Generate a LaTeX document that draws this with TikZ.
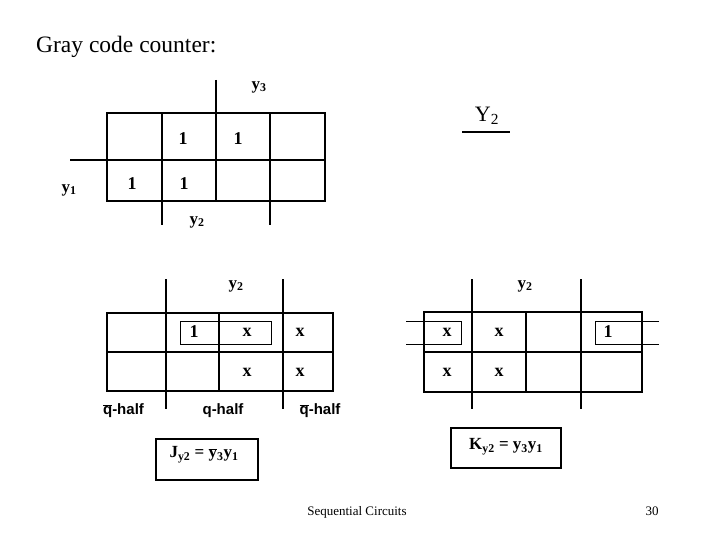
\documentclass[tikz,border=0pt]{standalone}
\usepackage{fontspec}
\setmainfont{Liberation Serif}
\newfontfamily\qsans{Liberation Sans}
\newcommand{\ovl}[1]{\ensuremath{\overline{\hbox{#1}}}}
\begin{document}
\begin{tikzpicture}[x=1pt,y=-1pt,
  grid/.style={line width=2.6pt},
  loopline/.style={line width=0.9pt},
  cell/.style={font=\fontsize{18}{18}\selectfont\bfseries, inner sep=0pt},
  varlab/.style={font=\fontsize{17}{17}\selectfont\bfseries, inner sep=0pt},
  half/.style={font=\qsans\fontsize{15}{15}\selectfont\bfseries, inner sep=0pt},
  eqbox/.style={draw, line width=2.2pt},
  eqtext/.style={font=\fontsize{17}{17}\selectfont\bfseries, inner sep=0pt}]
\useasboundingbox (0,0) rectangle (720,540);
% title
\node[anchor=base west, inner sep=0pt, font=\fontsize{23.5}{24}\selectfont] (title) at (36,53) {Gray code counter:};
% ---- top map ----
\draw[grid] (107,113) rectangle (325,201);
\draw[grid] (162,113) -- (162,225);
\draw[grid] (216,80) -- (216,201);
\draw[grid] (270,113) -- (270,225);
\draw[grid] (70,160) -- (325,160);
\node[varlab] (ty3) at (259,87) {y\textsubscript{3}};
\node[varlab] (ty1) at (69,190) {y\textsubscript{1}};
\node[varlab] (ty2) at (197,222) {y\textsubscript{2}};
\node[cell] (t12) at (183,139) {1};
\node[cell] (t13) at (238,139) {1};
\node[cell] (t21) at (132,184) {1};
\node[cell] (t22) at (184,184) {1};
% Y2 heading
\node[inner sep=0pt, font=\fontsize{22}{22}\selectfont] (Y2) at (487,116) {Y\textsubscript{2}};
\coordinate (ul1) at (462,132);
\coordinate (ul2) at (510,132);
\draw[line width=1.6pt] (ul1) -- (ul2);
% ---- bottom left map ----
\draw[grid] (107,313) rectangle (333,391);
\draw[grid] (166,279) -- (166,409);
\draw[grid] (219,313) -- (219,391);
\draw[grid] (283,279) -- (283,409);
\draw[grid] (107,352) -- (333,352);
\draw[loopline] (180,321) rectangle (271,344);
\node[varlab] (ly2) at (236,286) {y\textsubscript{2}};
\node[cell] (l12) at (194,332) {1};
\node[cell] (l13) at (247,332) {x};
\node[cell] (l14) at (300,332) {x};
\node[cell] (l23) at (247,372) {x};
\node[cell] (l24) at (300,372) {x};
\node[half] (lh1) at (123.5,411) {\ovl{q}-half};
\node[half] (lh2) at (223,411) {q-half};
\node[half] (lh3) at (320,411) {\ovl{q}-half};
% ---- bottom right map ----
\draw[grid] (424,312) rectangle (642,392);
\draw[grid] (472,279) -- (472,409);
\draw[grid] (526,312) -- (526,392);
\draw[grid] (581,279) -- (581,409);
\draw[grid] (424,352) -- (642,352);
\draw[loopline] (406,321) -- (461,321) -- (461,344) -- (406,344);
\draw[loopline] (659,321) -- (595,321) -- (595,344) -- (659,344);
\node[varlab] (ry2) at (525,286) {y\textsubscript{2}};
\node[cell] (r11) at (447,332) {x};
\node[cell] (r12) at (499,332) {x};
\node[cell] (r14) at (608,332) {1};
\node[cell] (r21) at (447,372) {x};
\node[cell] (r22) at (499,372) {x};
% ---- equations ----
\draw[eqbox] (156,439) rectangle (258,480);
\node[eqtext] (J) at (204,455) {J\textsubscript{y2} = \ovl{y}\textsubscript{3}y\textsubscript{1}};
\draw[eqbox] (451,428) rectangle (561,468);
\node[eqtext] (K) at (506,447) {K\textsubscript{y2} = y\textsubscript{3}y\textsubscript{1}};
% footer
\node[anchor=base, inner sep=0pt, font=\fontsize{13}{13}\selectfont] (foot) at (357,515) {Sequential Circuits};
\node[anchor=base, inner sep=0pt, font=\fontsize{13}{13}\selectfont] (pg) at (652,515) {30};
\end{tikzpicture}
\end{document}
